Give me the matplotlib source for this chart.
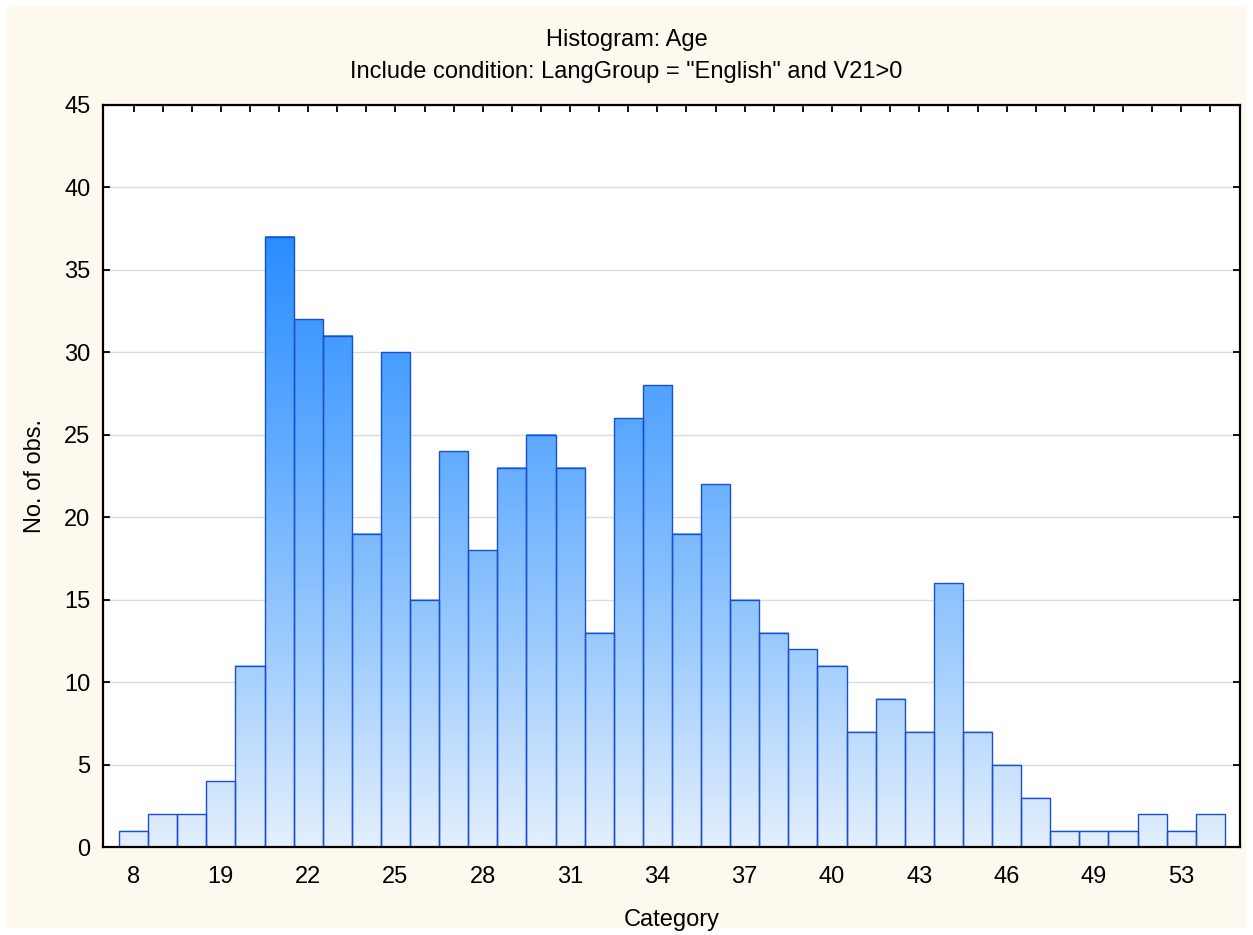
import matplotlib
matplotlib.use("Agg")
import matplotlib.pyplot as plt
import numpy as np
from matplotlib.colors import LinearSegmentedColormap, Normalize
from matplotlib.patches import Rectangle

# data
categories = [8, 16, 18, 19, 20, 21, 22, 23, 24, 25, 26, 27, 28, 29, 30, 31, 32, 33, 34,
              35, 36, 37, 38, 39, 40, 41, 42, 43, 44, 45, 46, 47, 48, 49, 50, 51, 53, 55]
counts = [1, 2, 2, 4, 11, 37, 32, 31, 19, 30, 15, 24, 18, 23, 25, 23, 13, 26, 28,
          19, 22, 15, 13, 12, 11, 7, 9, 7, 16, 7, 5, 3, 1, 1, 1, 2, 1, 2]
y_ticks = [0, 5, 10, 15, 20, 25, 30, 35, 40, 45]

plt.rcParams['font.family'] = ['Liberation Sans', 'DejaVu Sans']
FS = 17

fig = plt.figure(figsize=(12.53, 9.35), dpi=100, facecolor='white')
# cream panel inside a thin white border
fig.patches.append(Rectangle((7 / 1253, 7 / 935), 1 - 14 / 1253, 1 - 14 / 935,
                             transform=fig.transFigure, facecolor='#fdf9ee',
                             edgecolor='none', zorder=-10))

ax = fig.add_axes([103 / 1253, 88 / 935, 1137 / 1253, 742 / 935])
ax.set_facecolor('white')

x = np.arange(len(categories))
cmap = LinearSegmentedColormap.from_list('grad', ['#e3effd', '#9ccbfd', '#5eaaff', '#2a8eff'])
norm = Normalize(vmin=0, vmax=max(counts))

bars = ax.bar(x, counts, width=1.0, facecolor='none', edgecolor='#1c4fd0',
              linewidth=1.0, zorder=4)
for b, h in zip(bars, counts):
    grad = np.linspace(0, h, 200).reshape(-1, 1)
    ax.imshow(grad, cmap=cmap, norm=norm, aspect='auto', origin='lower',
              extent=(b.get_x(), b.get_x() + b.get_width(), 0, h), zorder=3)

ax.set_xlim(-1.05, len(categories) - 1 + 1.02)
ax.set_ylim(0, 45)
ax.set_yticks(y_ticks)
ax.yaxis.grid(True, color='#dcdcdc', linewidth=1.0, zorder=0)
ax.set_axisbelow(True)

ax.set_xticks(x)
ax.set_xticklabels([str(c) if i % 3 == 0 else '' for i, c in enumerate(categories)])

ax.tick_params(axis='both', direction='in', length=5, width=1.3, labelsize=FS,
               top=True, right=True, colors='black')
ax.tick_params(axis='x', pad=14)
ax.tick_params(axis='y', pad=9)
for s in ax.spines.values():
    s.set_linewidth(1.6)
    s.set_color('black')
    s.set_zorder(6)

ax.set_xlabel('Category', fontsize=FS, labelpad=15)
ax.set_ylabel('No. of obs.', fontsize=FS, labelpad=13)

fig.text(0.5, 1 - 40 / 935, 'Histogram: Age', ha='center', va='center', fontsize=FS)
fig.text(0.5, 1 - 72 / 935, 'Include condition: LangGroup = "English" and V21>0',
         ha='center', va='center', fontsize=FS)

fig.savefig('out.png', dpi=100, facecolor=fig.get_facecolor())
